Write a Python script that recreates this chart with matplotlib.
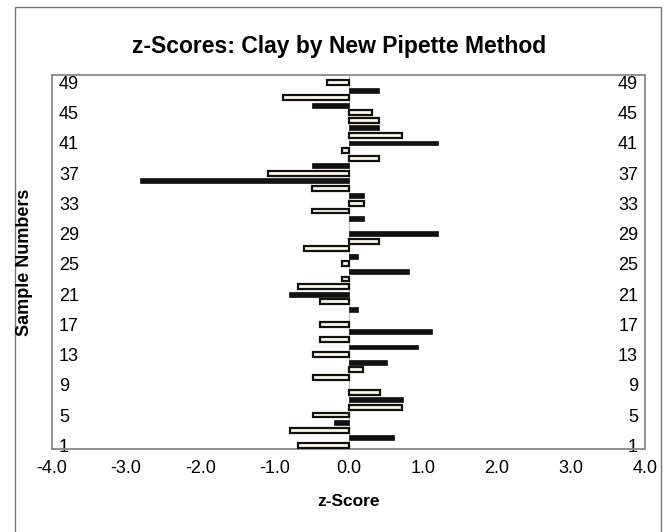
import matplotlib.pyplot as plt
import numpy as np
from matplotlib.patches import Rectangle

nan = np.nan

samples = list(range(1, 50))

# open (white) bars, one value per sample, nan where the sample has none
white_scores = [-0.68, nan, -0.79, nan, -0.48, 0.72, nan, 0.42, nan, -0.48,
                0.20, nan, -0.48, nan, -0.39, nan, -0.39, nan, nan, -0.39,
                nan, -0.68, -0.09, nan, -0.09, nan, -0.60, 0.41, nan, nan,
                nan, -0.49, 0.21, nan, -0.49, nan, -1.08, nan, 0.41, -0.09,
                nan, 0.72, nan, 0.41, 0.32, nan, -0.89, nan, -0.29]

# solid (black) bars
black_scores = [nan, 0.61, nan, -0.20, nan, nan, 0.73, nan, nan, nan,
                nan, 0.52, nan, 0.94, nan, 1.13, nan, nan, 0.13, nan,
                -0.80, nan, nan, 0.81, nan, 0.13, nan, nan, 1.21, nan,
                0.21, nan, nan, 0.21, nan, -2.81, nan, -0.49, nan, nan,
                1.21, nan, 0.41, nan, nan, -0.49, nan, 0.41, nan]

y_ticks = list(range(1, 50, 4))
x_ticks = [-4.0, -3.0, -2.0, -1.0, 0.0, 1.0, 2.0, 3.0, 4.0]

plt.rcParams['font.family'] = ['Liberation Sans', 'DejaVu Sans']

fig = plt.figure(figsize=(6.68, 5.32), dpi=100)
ax = fig.add_axes([52 / 668, 1 - 449 / 532, 593 / 668, 374 / 532])

# outer chart border
fig.patches.append(Rectangle((15 / 668, -0.05), 646 / 668, 1.037,
                             transform=fig.transFigure, fill=False,
                             edgecolor='#777777', linewidth=1.0))

ax.axvline(0, color='#bbbbbb', linewidth=0.8, zorder=1)

ax.barh(samples, white_scores, height=0.66, color='#fdf8e8',
        edgecolor='#111111', linewidth=1.6, zorder=3)
ax.barh(samples, black_scores, height=0.66, color='#111111',
        edgecolor='#111111', linewidth=0.5, zorder=3)

ax.set_xlim(-4, 4)
ax.set_ylim(0.5, 50.0)
ax.set_xticks(x_ticks)
ax.set_xticklabels(['%.1f' % v for v in x_ticks])
ax.set_yticks(y_ticks)

ax.tick_params(axis='x', length=0, pad=8, labelsize=13)
ax.tick_params(axis='y', length=0, labelsize=13, labelleft=True,
               labelright=True, left=False, right=False)
ax.yaxis.set_tick_params(pad=-5)
for t in ax.yaxis.get_major_ticks():
    t.label1.set_horizontalalignment('left')
    t.label2.set_horizontalalignment('right')

for sp in ax.spines.values():
    sp.set_color('#888888')
    sp.set_linewidth(1.3)

ax.set_xlabel('z-Score', fontsize=12.5, fontweight='bold', labelpad=12)
fig.text(25 / 668, 1 - 262 / 532, 'Sample Numbers', rotation=90,
         fontsize=13, fontweight='bold', ha='center', va='center')
fig.text(339 / 668, 1 - 47 / 532, 'z-Scores: Clay by New Pipette Method',
         fontsize=16.5, fontweight='bold', ha='center', va='center')

fig.savefig('out.png', dpi=100)
